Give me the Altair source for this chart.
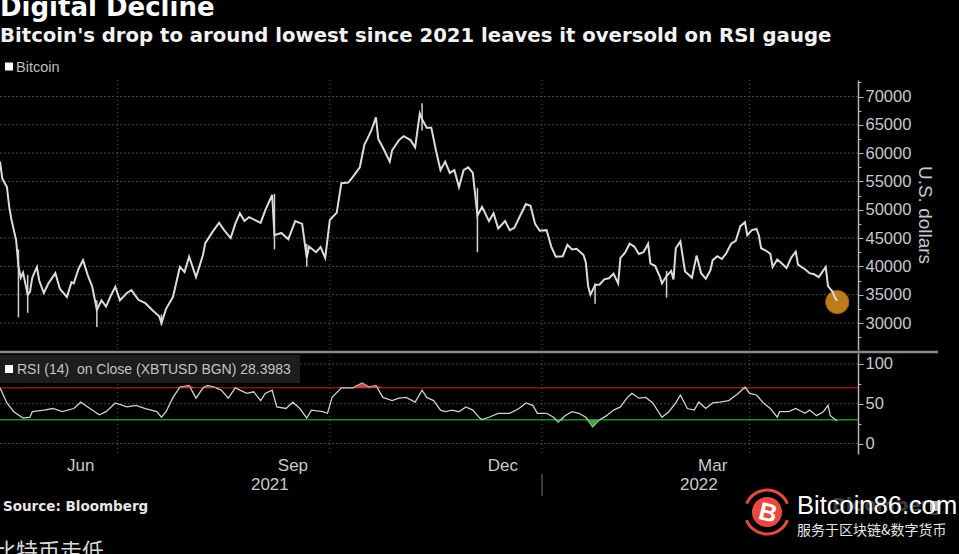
import altair as alt
import pandas as pd

# ---------------- data ----------------
price_dates = [
    "2021-05-11", "2021-05-12", "2021-05-14", "2021-05-15", "2021-05-16", "2021-05-18", "2021-05-19",
    "2021-05-20", "2021-05-21", "2021-05-23", "2021-05-24", "2021-05-25", "2021-05-27", "2021-05-28",
    "2021-05-30", "2021-06-01", "2021-06-04", "2021-06-06", "2021-06-09", "2021-06-11", "2021-06-12",
    "2021-06-14", "2021-06-16", "2021-06-18", "2021-06-20", "2021-06-22", "2021-06-24", "2021-06-26",
    "2021-06-28", "2021-06-30", "2021-07-02", "2021-07-05", "2021-07-07", "2021-07-10", "2021-07-13",
    "2021-07-16", "2021-07-19", "2021-07-20", "2021-07-22", "2021-07-25", "2021-07-28", "2021-07-30",
    "2021-08-01", "2021-08-04", "2021-08-07", "2021-08-08", "2021-08-11", "2021-08-14", "2021-08-16",
    "2021-08-19", "2021-08-21", "2021-08-23", "2021-08-25", "2021-08-27", "2021-09-01", "2021-09-03",
    "2021-09-06", "2021-09-07", "2021-09-10", "2021-09-13", "2021-09-16", "2021-09-19", "2021-09-21",
    "2021-09-22", "2021-09-25", "2021-09-27", "2021-09-29", "2021-10-01", "2021-10-04", "2021-10-06",
    "2021-10-09", "2021-10-11", "2021-10-14", "2021-10-16", "2021-10-17", "2021-10-19", "2021-10-21",
    "2021-10-22", "2021-10-24", "2021-10-27", "2021-10-28", "2021-10-31", "2021-11-02", "2021-11-05",
    "2021-11-07", "2021-11-09", "2021-11-10", "2021-11-12", "2021-11-14", "2021-11-16", "2021-11-18",
    "2021-11-20", "2021-11-22", "2021-11-24", "2021-11-26", "2021-11-28", "2021-11-30", "2021-12-02",
    "2021-12-04", "2021-12-06", "2021-12-09", "2021-12-11", "2021-12-13", "2021-12-16", "2021-12-18",
    "2021-12-20", "2021-12-22", "2021-12-25", "2021-12-27", "2021-12-29", "2021-12-31", "2022-01-03",
    "2022-01-05", "2022-01-07", "2022-01-10", "2022-01-12", "2022-01-14", "2022-01-16", "2022-01-19",
    "2022-01-20", "2022-01-21", "2022-01-22", "2022-01-24", "2022-01-26", "2022-01-28", "2022-01-30",
    "2022-02-01", "2022-02-03", "2022-02-04", "2022-02-06", "2022-02-08", "2022-02-10", "2022-02-12",
    "2022-02-14", "2022-02-16", "2022-02-17", "2022-02-19", "2022-02-21", "2022-02-22", "2022-02-24",
    "2022-02-26", "2022-02-27", "2022-02-28", "2022-03-02", "2022-03-04", "2022-03-06", "2022-03-07",
    "2022-03-09", "2022-03-11", "2022-03-13", "2022-03-15", "2022-03-16", "2022-03-18", "2022-03-20",
    "2022-03-22", "2022-03-24", "2022-03-26", "2022-03-28", "2022-03-30", "2022-03-31", "2022-04-02",
    "2022-04-04", "2022-04-05", "2022-04-06", "2022-04-08", "2022-04-10", "2022-04-11", "2022-04-13",
    "2022-04-15", "2022-04-17", "2022-04-19", "2022-04-21", "2022-04-22", "2022-04-25", "2022-04-27",
    "2022-04-29", "2022-05-01", "2022-05-04", "2022-05-05", "2022-05-07", "2022-05-08", "2022-05-09",
]
price_values = [
    58500, 55500, 54000, 50500, 48200, 44600, 40000,
    38000, 38900, 35000, 35500, 38000, 39900, 37500,
    35300, 37000, 38800, 36000, 34600, 37200, 37000,
    39500, 41100, 38500, 36400, 32300, 34000, 32900,
    34800, 36400, 34000, 35300, 35800, 34100, 33500,
    32300, 31200, 30000, 32500, 34600, 39900, 39000,
    41700, 38100, 42000, 44100, 46000, 47700, 46500,
    45000, 47500, 49400, 48000, 48700, 47700, 49900,
    52600, 45500, 45900, 44800, 48000, 47500, 41500,
    43500, 42500, 43400, 41500, 48200, 49500, 54700,
    54800, 55800, 57500, 61500, 62300, 64000, 66300,
    62500, 61000, 58500, 60500, 62300, 63000, 62300,
    61000, 67000, 66000, 64500, 64500, 60500, 57000,
    58500, 56500, 57000, 54000, 57000, 57500, 56500,
    49000, 50500, 48000, 49400, 46700, 48000, 46400,
    46800, 48500, 51000, 50700, 47500, 46300, 46400,
    43500, 41700, 41800, 43800, 43000, 43100, 42000,
    40700, 36500, 35000, 36700, 36800, 37700, 37900,
    38700, 37000, 41500, 42400, 44000, 43500, 42200,
    42500, 44000, 40500, 40100, 38300, 37000, 38300,
    39200, 37700, 43200, 44400, 39100, 38400, 38000,
    41900, 38800, 37800, 39300, 41100, 41800, 41300,
    42400, 44000, 44500, 47100, 47800, 45500, 46400,
    46600, 45500, 43200, 42800, 42200, 39900, 41200,
    40500, 39700, 41500, 42600, 40300, 39500, 38800,
    38600, 38100, 39900, 36500, 35500, 34500, 33900,
]

# intraday high/low bars that stick out of the closing line
spike_dates = ["2021-05-19", "2021-05-23", "2021-06-22", "2021-07-20", "2021-09-07",
               "2021-09-21", "2021-11-10", "2021-12-04", "2022-01-24", "2022-02-24"]
spike_lows = [31000, 31800, 29300, 29600, 43000, 40000, 64000, 42500, 33400, 34500]
spike_highs = [43000, 38500, 34000, 31500, 52800, 44000, 68800, 53800, 37000, 39200]

rsi_dates = [
    "2021-05-11", "2021-05-14", "2021-05-17", "2021-05-21", "2021-05-24", "2021-05-25", "2021-05-30",
    "2021-06-03", "2021-06-07", "2021-06-12", "2021-06-15", "2021-06-19", "2021-06-23", "2021-06-26",
    "2021-06-30", "2021-07-05", "2021-07-09", "2021-07-13", "2021-07-18", "2021-07-20", "2021-07-22",
    "2021-07-25", "2021-07-28", "2021-08-01", "2021-08-04", "2021-08-07", "2021-08-09", "2021-08-12",
    "2021-08-15", "2021-08-18", "2021-08-21", "2021-08-26", "2021-08-29", "2021-09-01", "2021-09-03",
    "2021-09-06", "2021-09-08", "2021-09-12", "2021-09-15", "2021-09-18", "2021-09-21", "2021-09-23",
    "2021-09-28", "2021-09-30", "2021-10-02", "2021-10-06", "2021-10-11", "2021-10-15", "2021-10-18",
    "2021-10-21", "2021-10-24", "2021-10-28", "2021-10-31", "2021-11-03", "2021-11-07", "2021-11-10",
    "2021-11-12", "2021-11-15", "2021-11-18", "2021-11-20", "2021-11-23", "2021-11-26", "2021-11-29",
    "2021-12-02", "2021-12-05", "2021-12-06", "2021-12-09", "2021-12-13", "2021-12-18", "2021-12-22",
    "2021-12-25", "2021-12-28", "2021-12-30", "2022-01-03", "2022-01-06", "2022-01-08", "2022-01-11",
    "2022-01-14", "2022-01-17", "2022-01-20", "2022-01-23", "2022-01-26", "2022-01-29", "2022-02-01",
    "2022-02-04", "2022-02-07", "2022-02-09", "2022-02-12", "2022-02-15", "2022-02-18", "2022-02-22",
    "2022-02-25", "2022-02-28", "2022-03-02", "2022-03-05", "2022-03-08", "2022-03-10", "2022-03-13",
    "2022-03-16", "2022-03-19", "2022-03-23", "2022-03-27", "2022-03-30", "2022-04-01", "2022-04-04",
    "2022-04-07", "2022-04-10", "2022-04-13", "2022-04-14", "2022-04-18", "2022-04-21", "2022-04-25",
    "2022-04-27", "2022-04-30", "2022-05-03", "2022-05-05", "2022-05-06", "2022-05-09",
]
rsi_values = [
    70, 51, 40, 32, 33, 40, 42,
    44, 40, 44, 52, 44, 36, 40,
    51, 46, 48, 44, 40, 33, 40,
    58, 71, 73, 57, 70, 73, 71,
    67, 57, 70, 63, 65, 54, 63,
    67, 46, 44, 52, 44, 32, 42,
    40, 38, 58, 70, 70, 76, 71,
    73, 58, 54, 57, 58, 52, 67,
    58, 54, 42, 40, 42, 40, 46,
    42, 32, 30, 33, 38, 38, 44,
    51, 48, 38, 38, 33, 27, 35,
    40, 38, 33, 21, 30, 35, 42,
    46, 58, 63, 57, 58, 51, 33,
    40, 51, 61, 44, 42, 52, 44,
    51, 52, 54, 63, 71, 63, 61,
    51, 44, 33, 40, 40, 44, 38,
    42, 35, 40, 48, 35, 28.3983,
]

last_date = ["2022-05-09"]
last_price = [33700]

price_ticks = [30000, 35000, 40000, 45000, 50000, 55000, 60000, 65000, 70000]
price_minor = [27500, 32500, 37500, 42500, 47500, 52500, 57500, 62500, 67500, 72500]
rsi_ticks = [0, 50, 100]
rsi_minor = [25, 75]
rsi_levels_ob = [70]
rsi_levels_os = [30]

month_starts = ["2021-06-01", "2021-07-01", "2021-08-01", "2021-09-01", "2021-10-01", "2021-11-01",
                "2021-12-01", "2022-01-01", "2022-02-01", "2022-03-01", "2022-04-01", "2022-05-01"]
quarter_dates = ["2021-07-01", "2021-10-01", "2022-01-01", "2022-04-01"]
month_label_dates = ["2021-06-15", "2021-09-15", "2021-12-15", "2022-03-16"]
month_labels = ["Jun", "Sep", "Dec", "Mar"]
year_label_dates = ["2021-09-05", "2022-03-10"]
year_labels = ["2021", "2022"]
year_break = ["2022-01-01"]

x_start, x_end = "2021-05-11", "2022-05-18"


def ms(s):
    return int(pd.Timestamp(s).value // 10**6)


# ---------------- layout constants ----------------
W, H = 959, 554
PLOT_R = 858
GREY = "#c9c9c9"
AXC = "#b5b5b5"
LAB_FONT = "Liberation Sans"

x_scale = alt.Scale(domain=[ms(x_start), ms(x_end)], range=[0, PLOT_R])
py = alt.Scale(domain=[25232, 72914], range=[350, 80], zero=False, nice=False)
ry = alt.Scale(domain=[-13.2, 113.8], range=[454, 353], zero=False, nice=False)

x_axis = alt.Axis(orient="bottom", offset=-100, values=[ms(d) for d in month_starts], labels=False,
                  tickSize=4, tickColor="#999999", domainColor="#a8a8a8", domainWidth=1.5,
                  grid=False, title=None)


def X(field, axis=None):
    if axis is None:
        return alt.X(field, type="temporal", scale=x_scale, axis=None)
    return alt.X(field, type="temporal", scale=x_scale, axis=axis)


one = pd.DataFrame({"k": [0]})


def deco_text(txt, x, y, size, color, font=LAB_FONT, weight="normal", align="left",
              baseline="alphabetic", angle=0, opacity=1.0):
    kw = dict(text=txt, fontSize=size, color=color, font=font, fontWeight=weight,
              align=align, baseline=baseline, opacity=opacity)
    if angle:
        kw["angle"] = angle
    return alt.Chart(one).mark_text(**kw).encode(x=alt.value(x), y=alt.value(y))


price_df = pd.DataFrame({"date": price_dates, "price": price_values})
spike_df = pd.DataFrame({"date": spike_dates, "low": spike_lows, "high": spike_highs})
rsi_df = pd.DataFrame({"date": rsi_dates, "rsi": rsi_values})

# ---------------- layers ----------------
price_grid = alt.Chart(pd.DataFrame({"v": price_ticks})).mark_rule(
    color="#4a4a4a", strokeDash=[2, 2], strokeWidth=1
).encode(
    y=alt.Y("v:Q", scale=py, axis=alt.Axis(orient="right", offset=-101, values=price_minor,
                                            labels=False, tickSize=3, tickColor=AXC, domain=False,
                                            grid=False, title=None)),
    x=alt.value(0), x2=alt.value(PLOT_R),
)

rsi_grid = alt.Chart(pd.DataFrame({"v": rsi_ticks})).mark_rule(
    color="#4a4a4a", strokeDash=[2, 2], strokeWidth=1
).encode(
    y=alt.Y("v:Q", scale=ry, axis=alt.Axis(orient="right", offset=-101, values=rsi_minor,
                                            labels=False, tickSize=3, tickColor=AXC, domain=False,
                                            grid=False, title=None)),
    x=alt.value(0), x2=alt.value(PLOT_R),
)

vgrid = alt.Chart(pd.DataFrame({"date": quarter_dates})).mark_rule(
    color="#5a5a5a", strokeDash=[1, 3], strokeWidth=1
).encode(x=X("date", x_axis), y=alt.value(80), y2=alt.value(454))

separator = alt.Chart(one).mark_rule(color="#8a8a8a", strokeWidth=2.5).encode(
    x=alt.value(0), x2=alt.value(938), y=alt.value(352))

rsi_box = alt.Chart(one).mark_rect(color="#1d1d1d").encode(
    x=alt.value(0), x2=alt.value(300), y=alt.value(355), y2=alt.value(383))

ob_line = alt.Chart(pd.DataFrame({"lvl": rsi_levels_ob})).mark_rule(color="#8e1212", strokeWidth=1.5).encode(
    y=alt.Y("lvl:Q", scale=ry, axis=None), x=alt.value(0), x2=alt.value(PLOT_R))
os_line = alt.Chart(pd.DataFrame({"lvl": rsi_levels_os})).mark_rule(color="#1f8f1f", strokeWidth=1.5).encode(
    y=alt.Y("lvl:Q", scale=ry, axis=None), x=alt.value(0), x2=alt.value(PLOT_R))

year_sep = alt.Chart(pd.DataFrame({"date": year_break})).mark_rule(color="#777777", strokeWidth=1).encode(
    x=X("date"), y=alt.value(474), y2=alt.value(496))

month_text = alt.Chart(pd.DataFrame({"date": month_label_dates, "lab": month_labels})).mark_text(
    fontSize=17, font=LAB_FONT, color=GREY, baseline="middle", align="center"
).encode(x=X("date"), y=alt.value(466), text="lab:N")

year_text = alt.Chart(pd.DataFrame({"date": year_label_dates, "lab": year_labels})).mark_text(
    fontSize=17, font=LAB_FONT, color=GREY, baseline="middle", align="center"
).encode(x=X("date"), y=alt.value(485), text="lab:N")

spikes = alt.Chart(spike_df).mark_rule(color="#d4d4d4", strokeWidth=1.5).encode(
    x=X("date"), y=alt.Y("low:Q", scale=py, axis=None), y2="high:Q")

highlight = alt.Chart(pd.DataFrame({"date": last_date, "price": last_price})).mark_circle(
    size=540, color="#c8821c", opacity=0.95, stroke="#a86a10", strokeWidth=1
).encode(x=X("date"), y=alt.Y("price:Q", scale=py, axis=None))

price_line = alt.Chart(price_df).mark_line(color="#dcdcdc", strokeWidth=2.0).encode(
    x=X("date"),
    y=alt.Y("price:Q", scale=py,
            axis=alt.Axis(orient="right", offset=-101, values=price_ticks, format="d", tickSize=5,
                          tickColor=AXC, domainColor=AXC, domainWidth=1.5, labelColor=GREY,
                          labelFontSize=16.5, labelFont=LAB_FONT, labelPadding=2, grid=False,
                          title=None)),
)

rsi_line = alt.Chart(rsi_df).mark_line(color="#cfcfcf", strokeWidth=1.3).encode(
    x=X("date"),
    y=alt.Y("rsi:Q", scale=ry,
            axis=alt.Axis(orient="right", offset=-101, values=rsi_ticks, format="d", tickSize=5,
                          tickColor=AXC, domainColor=AXC, domainWidth=1.5, labelColor=GREY,
                          labelFontSize=16.5, labelFont=LAB_FONT, labelPadding=2, grid=False,
                          title=None)),
)

ob_fill = alt.Chart(rsi_df).transform_calculate(
    hi="max(datum.rsi, 70)", base="70"
).mark_area(color="#d86060", opacity=0.85).encode(
    x=X("date"), y=alt.Y("hi:Q", scale=ry, axis=None), y2="base:Q")

os_fill = alt.Chart(rsi_df).transform_calculate(
    lo="min(datum.rsi, 30)", base="30"
).mark_area(color="#4fb04f", opacity=0.9).encode(
    x=X("date"), y=alt.Y("lo:Q", scale=ry, axis=None), y2="base:Q")

# legends / titles
bitcoin_sq = alt.Chart(one).mark_square(size=64, color="#ffffff", opacity=1).encode(
    x=alt.value(9), y=alt.value(66.5))
rsi_sq = alt.Chart(one).mark_square(size=64, color="#ffffff", opacity=1).encode(
    x=alt.value(9), y=alt.value(369))

title = deco_text("Digital Decline", 0, 16, 26, "#ffffff", font="DejaVu Sans", weight="bold")
subtitle = deco_text("Bitcoin's drop to around lowest since 2021 leaves it oversold on RSI gauge",
                     0, 42, 19.7, "#f2f2f2", font="DejaVu Sans", weight="bold")
bitcoin_lab = deco_text("Bitcoin", 16, 71.5, 14.5, "#bdbdbd")
rsi_lab = deco_text("RSI (14)\u00a0 on Close (XBTUSD BGN) 28.3983", 17, 374, 14, "#c4c4c4")
ytitle = deco_text("U.S. dollars", 925, 215, 19, GREY, align="center", baseline="middle", angle=90)
source = deco_text("Source: Bloomberg", 3, 511, 13.5, "#e6e6e6", font="DejaVu Sans", weight="bold")
cn_title = deco_text("比特币走低", -6, 559, 22, "#d8d8d8", font="Noto Sans CJK SC")

# watermark
wm_bloomberg = deco_text("Bloomberg", 832, 511, 18, "#3c3c3c", font="DejaVu Sans", weight="bold")
wm_square = alt.Chart(one).mark_square(size=100, color="#c8c8c8", opacity=0.85).encode(
    x=alt.value(935), y=alt.value(506))
logo_circle = alt.Chart(one).mark_circle(size=908, color="#e8493f", opacity=1).encode(
    x=alt.value(767), y=alt.value(512))
logo_arc_top = alt.Chart(one).mark_arc(radius=23.5, radius2=20.5, theta=5.1, theta2=7.47,
                                       color="#e8493f").encode(x=alt.value(767), y=alt.value(512))
logo_arc_bot = alt.Chart(one).mark_arc(radius=23.5, radius2=20.5, theta=1.95, theta2=4.33,
                                       color="#e8493f").encode(x=alt.value(767), y=alt.value(512))
logo_b = deco_text("B", 768, 513, 25, "#ffffff", weight="bold", align="center", baseline="middle",
                   angle=14)
wm_name = deco_text("Bitcoin86.com", 797, 514, 25.5, "#ffffff")
wm_sub = deco_text("服务于区块链&数字货币", 797, 535, 14, "#e6e6e6", font="Noto Sans CJK SC")

chart = alt.layer(
    title, subtitle, bitcoin_sq, bitcoin_lab,
    price_grid, rsi_grid, vgrid, separator, rsi_box, rsi_sq, rsi_lab,
    ob_line, os_line, year_sep, month_text, year_text,
    highlight, spikes, price_line, rsi_line, ob_fill, os_fill,
    ytitle, source, cn_title,
    wm_bloomberg, wm_square, logo_arc_top, logo_arc_bot, logo_circle, logo_b, wm_name, wm_sub,
).resolve_scale(
    y="independent"
).properties(
    width=W, height=H, background="#000000", padding=0,
    autosize=alt.AutoSizeParams(type="none"),
).configure_view(
    stroke="transparent"
)

chart.save("out.html", embed_options={"renderer": "svg", "actions": False})
